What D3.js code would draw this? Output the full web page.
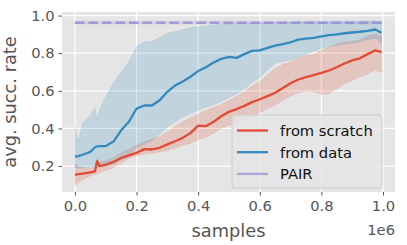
<!DOCTYPE html>
<html>
<head>
<meta charset="utf-8">
<script src="https://cdn.jsdelivr.net/npm/d3@7"></script>
<style>
body { margin: 0; background: #fff; }
text { font-family: "DejaVu Sans", sans-serif; }
</style>
</head>
<body>
<div id="chart"></div>
<script>
// x values in units of 1e6 samples
var samples = [0, 0.01, 0.025, 0.05, 0.065, 0.072, 0.08, 0.1, 0.125, 0.15, 0.175, 0.2, 0.225, 0.25, 0.275, 0.3, 0.325, 0.35, 0.375, 0.4, 0.425, 0.45, 0.475, 0.5, 0.525, 0.55, 0.575, 0.6, 0.625, 0.65, 0.675, 0.7, 0.725, 0.75, 0.775, 0.8, 0.825, 0.85, 0.875, 0.9, 0.925, 0.95, 0.975, 0.995];

var scratchMean = [0.153, 0.157, 0.16, 0.166, 0.172, 0.225, 0.2, 0.207, 0.222, 0.243, 0.257, 0.27, 0.29, 0.288, 0.297, 0.315, 0.332, 0.35, 0.375, 0.415, 0.412, 0.435, 0.465, 0.488, 0.503, 0.52, 0.54, 0.555, 0.572, 0.59, 0.615, 0.64, 0.66, 0.673, 0.683, 0.695, 0.708, 0.725, 0.745, 0.762, 0.773, 0.795, 0.815, 0.806];
var scratchLow = [0.099, 0.11, 0.128, 0.148, 0.155, 0.16, 0.165, 0.178, 0.192, 0.215, 0.24, 0.255, 0.263, 0.268, 0.275, 0.283, 0.295, 0.31, 0.32, 0.34, 0.352, 0.375, 0.4, 0.416, 0.432, 0.448, 0.465, 0.485, 0.505, 0.525, 0.548, 0.57, 0.59, 0.6, 0.595, 0.58, 0.585, 0.61, 0.638, 0.655, 0.675, 0.69, 0.71, 0.698];
var scratchHigh = [0.214, 0.2, 0.19, 0.19, 0.195, 0.24, 0.222, 0.228, 0.245, 0.27, 0.29, 0.31, 0.33, 0.342, 0.356, 0.382, 0.41, 0.435, 0.455, 0.475, 0.495, 0.512, 0.526, 0.548, 0.572, 0.595, 0.625, 0.65, 0.685, 0.72, 0.74, 0.755, 0.775, 0.788, 0.795, 0.815, 0.832, 0.85, 0.86, 0.862, 0.87, 0.89, 0.902, 0.888];

var dataMean = [0.25, 0.253, 0.26, 0.275, 0.3, 0.305, 0.306, 0.306, 0.33, 0.39, 0.435, 0.505, 0.522, 0.522, 0.55, 0.595, 0.628, 0.65, 0.675, 0.705, 0.725, 0.75, 0.77, 0.78, 0.775, 0.795, 0.812, 0.815, 0.828, 0.84, 0.848, 0.858, 0.872, 0.877, 0.882, 0.889, 0.896, 0.9, 0.906, 0.91, 0.914, 0.919, 0.926, 0.909];
var dataLow = [0.19, 0.19, 0.19, 0.195, 0.195, 0.195, 0.196, 0.196, 0.21, 0.232, 0.25, 0.295, 0.315, 0.335, 0.37, 0.405, 0.435, 0.46, 0.48, 0.497, 0.512, 0.525, 0.545, 0.565, 0.585, 0.61, 0.645, 0.67, 0.71, 0.745, 0.755, 0.765, 0.778, 0.795, 0.81, 0.825, 0.835, 0.842, 0.848, 0.853, 0.86, 0.872, 0.88, 0.85];
var dataHigh = [0.41, 0.33, 0.43, 0.47, 0.51, 0.45, 0.5, 0.57, 0.64, 0.7, 0.755, 0.835, 0.86, 0.862, 0.885, 0.905, 0.915, 0.925, 0.935, 0.941, 0.945, 0.95, 0.952, 0.955, 0.958, 0.96, 0.962, 0.962, 0.963, 0.964, 0.965, 0.965, 0.966, 0.966, 0.967, 0.967, 0.968, 0.968, 0.969, 0.969, 0.97, 0.97, 0.971, 0.968];

var pairSamples = [0, 0.995];
var pairMean = [0.962, 0.962];
var pairLow = [0.955, 0.955];
var pairHigh = [0.969, 0.969];

var xTicks = [0, 0.2, 0.4, 0.6, 0.8, 1.0];
var yTicks = [0.2, 0.4, 0.6, 0.8, 1.0];
var legendNames = ["from scratch", "from data", "PAIR"];
var colors = ["#E24A33", "#348ABD", "#988ED5"];

var W = 407, H = 245;
var plotL = 62, plotR = 395, plotT = 12, plotB = 192;

var svg = d3.select("#chart").append("svg").attr("width", W).attr("height", H);

var x = d3.scaleLinear().domain([-0.042, 1.039]).range([plotL, plotR]);
var y = d3.scaleLinear().domain([0.062, 1.019]).range([plotB, plotT]);

svg.append("rect").attr("x", plotL).attr("y", plotT).attr("width", plotR - plotL).attr("height", plotB - plotT).attr("fill", "#E5E5E5");

// grid
svg.append("g").selectAll("line").data(xTicks).join("line")
  .attr("x1", d => x(d)).attr("x2", d => x(d)).attr("y1", plotT).attr("y2", plotB)
  .attr("stroke", "white").attr("stroke-width", 1.2);
svg.append("g").selectAll("line").data(yTicks).join("line")
  .attr("y1", d => y(d)).attr("y2", d => y(d)).attr("x1", plotL).attr("x2", plotR)
  .attr("stroke", "white").attr("stroke-width", 1.2);

function rows(xs, m, lo, hi) {
  return xs.map((d, i) => ({x: d, m: m[i], lo: lo[i], hi: hi[i]}));
}
var series = [
  rows(samples, scratchMean, scratchLow, scratchHigh),
  rows(samples, dataMean, dataLow, dataHigh),
  rows(pairSamples, pairMean, pairLow, pairHigh)
];

var area = d3.area().x(d => x(d.x)).y0(d => y(d.lo)).y1(d => y(d.hi));
var line = d3.line().x(d => x(d.x)).y(d => y(d.m));

series.forEach(function (s, i) {
  svg.append("path").attr("d", area(s)).attr("fill", colors[i]).attr("fill-opacity", 0.2)
    .attr("stroke", colors[i]).attr("stroke-opacity", 0.15).attr("stroke-width", 0.8);
});
series.forEach(function (s, i) {
  var p = svg.append("path").attr("d", line(s)).attr("fill", "none").attr("stroke", colors[i])
    .attr("stroke-width", i == 2 ? 2.4 : 2.3).attr("stroke-linejoin", "round");
  if (i == 2) p.attr("stroke-dasharray", "9.5,4").attr("stroke-opacity", 0.85);
});

// axes (ticks + labels only, no spines)
var xAxis = svg.append("g").attr("transform", "translate(0," + plotB + ")")
  .call(d3.axisBottom(x).tickValues(xTicks).tickFormat(d3.format(".1f")).tickSize(3.5).tickPadding(4));
var yAxis = svg.append("g").attr("transform", "translate(" + plotL + ",0)")
  .call(d3.axisLeft(y).tickValues(yTicks).tickFormat(d3.format(".1f")).tickSize(3.5).tickPadding(4));
[xAxis, yAxis].forEach(function (a) {
  a.select(".domain").remove();
  a.selectAll("line").attr("stroke", "#555555");
  a.selectAll("text").attr("fill", "#555555").style("font-size", "14.7px").style("font-family", "DejaVu Sans");
});
xAxis.selectAll("text").attr("dy", "0.76em");

svg.append("text").attr("x", (plotL + plotR) / 2).attr("y", 237).attr("text-anchor", "middle")
  .style("font-size", "17.8px").attr("fill", "#555555").text("samples");
svg.append("text").attr("x", plotR).attr("y", 235).attr("text-anchor", "end")
  .style("font-size", "14.7px").attr("fill", "#555555").text("1e6");
svg.append("text").attr("transform", "translate(16," + ((plotT + plotB) / 2) + ") rotate(-90)")
  .attr("text-anchor", "middle").style("font-size", "17.8px").attr("fill", "#555555").text("avg. succ. rate");

// legend
var lg = svg.append("g");
lg.append("rect").attr("x", 232).attr("y", 115).attr("width", 150).attr("height", 73).attr("rx", 3)
  .attr("fill", "#E5E5E5").attr("fill-opacity", 0.8).attr("stroke", "#CCCCCC").attr("stroke-width", 1);
var rowY = [130.5, 152.2, 173.9];
legendNames.forEach(function (name, i) {
  lg.append("line").attr("x1", 237).attr("x2", 268).attr("y1", rowY[i]).attr("y2", rowY[i])
    .attr("stroke", colors[i]).attr("stroke-width", 2.3).attr("stroke-opacity", i == 2 ? 0.75 : 1);
  lg.append("text").attr("x", 280).attr("y", rowY[i] + 5.3).style("font-size", "14.7px")
    .attr("fill", "#111").text(name);
});
</script>
</body>
</html>
